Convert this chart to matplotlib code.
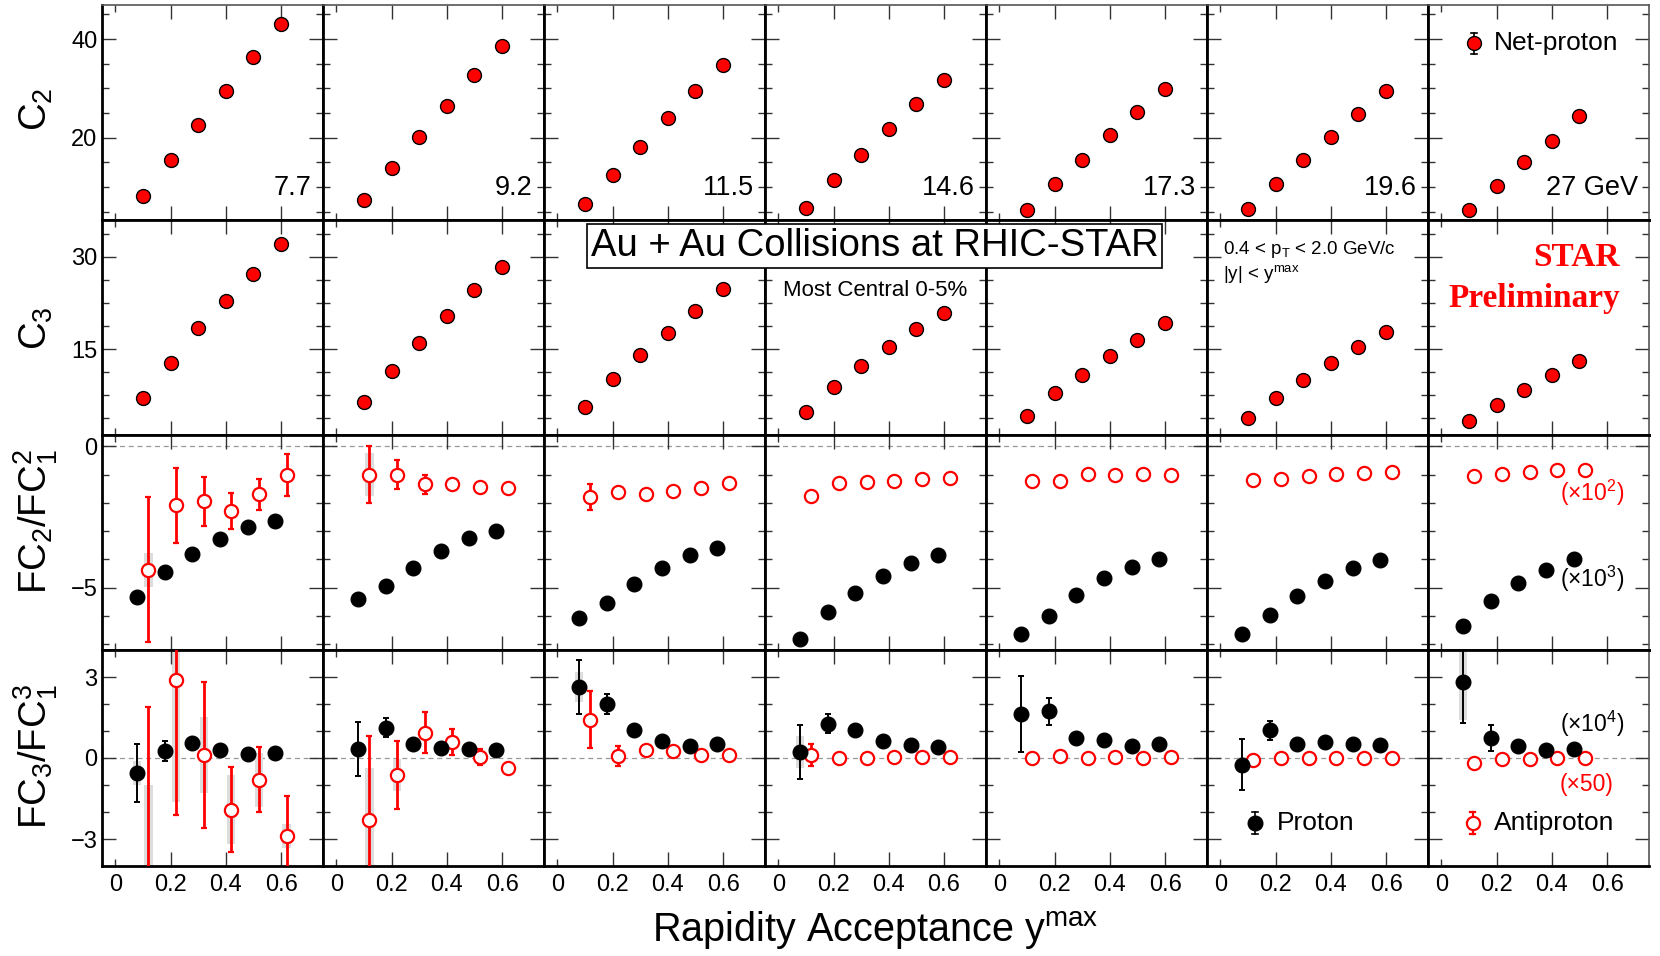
import matplotlib
matplotlib.use('Agg')
import matplotlib.pyplot as plt
import numpy as np

plt.rcParams['font.family'] = ['Liberation Sans', 'DejaVu Sans']
plt.rcParams['mathtext.fontset'] = 'custom'
plt.rcParams['mathtext.rm'] = 'Liberation Sans'
plt.rcParams['mathtext.it'] = 'Liberation Sans:italic'
plt.rcParams['mathtext.bf'] = 'Liberation Sans:bold'

# ---------------- data ----------------
energy_labels = ['7.7', '9.2', '11.5', '14.6', '17.3', '19.6', '27 GeV']
ymax_points = [0.1, 0.2, 0.3, 0.4, 0.5, 0.6]
n_points = [6, 6, 6, 6, 6, 6, 5]
proton_shift = -0.021
antiproton_shift = 0.02

c2_netp = [
    [8.1, 15.4, 22.5, 29.5, 36.4, 43.0],
    [7.4, 13.9, 20.2, 26.4, 32.8, 38.6],
    [6.5, 12.5, 18.2, 23.9, 29.5, 34.8],
    [5.7, 11.4, 16.5, 21.7, 26.9, 31.6],
    [5.4, 10.6, 15.5, 20.5, 25.3, 29.9],
    [5.5, 10.7, 15.4, 20.1, 24.8, 29.4],
    [5.4, 10.2, 15.0, 19.4, 24.3],
]
c3_netp = [
    [7.0, 12.8, 18.4, 22.8, 27.2, 32.1],
    [6.3, 11.5, 15.9, 20.3, 24.6, 28.3],
    [5.5, 10.1, 14.1, 17.6, 21.2, 24.7],
    [4.7, 8.8, 12.2, 15.3, 18.2, 20.9],
    [4.1, 7.8, 10.8, 13.9, 16.5, 19.3],
    [3.8, 7.1, 10.0, 12.8, 15.4, 17.8],
    [3.2, 5.9, 8.4, 10.7, 13.1],
]

fc2_p = [
    [-5.32, -4.46, -3.81, -3.26, -2.84, -2.65],
    [-5.41, -4.93, -4.29, -3.70, -3.24, -2.99],
    [-6.06, -5.53, -4.85, -4.29, -3.84, -3.58],
    [-6.80, -5.87, -5.18, -4.60, -4.14, -3.85],
    [-6.62, -6.00, -5.24, -4.67, -4.26, -3.97],
    [-6.63, -5.97, -5.30, -4.76, -4.30, -4.01],
    [-6.36, -5.46, -4.82, -4.37, -4.00],
]
fc2_pbar = [
    [-4.36, -2.09, -1.95, -2.29, -1.69, -1.02],
    [-1.00, -1.00, -1.34, -1.34, -1.44, -1.47],
    [-1.80, -1.61, -1.68, -1.57, -1.47, -1.31],
    [-1.74, -1.29, -1.26, -1.23, -1.17, -1.11],
    [-1.22, -1.22, -0.97, -1.02, -0.99, -1.03],
    [-1.19, -1.15, -1.05, -0.97, -0.95, -0.92],
    [-1.04, -0.97, -0.91, -0.85, -0.83],
]
fc2_pbar_err = [
    [2.57, 1.33, 0.87, 0.64, 0.55, 0.74],
    [1.00, 0.51, 0.33, 0.17, 0.08, 0.08],
    [0.46, 0.06, 0.05, 0.05, 0.05, 0.05],
    [0.05, 0.04, 0.04, 0.04, 0.04, 0.04],
    [0.04, 0.04, 0.04, 0.04, 0.04, 0.04],
    [0.04, 0.04, 0.04, 0.04, 0.04, 0.04],
    [0.04, 0.04, 0.04, 0.04, 0.04],
]
fc2_pbar_sys = [
    [0.60, 0.0, 0.0, 0.0, 0.0, 0.0],
    [0.75, 0.0, 0.0, 0.0, 0.0, 0.0],
    [0.0, 0.0, 0.0, 0.0, 0.0, 0.0],
    [0.0, 0.0, 0.0, 0.0, 0.0, 0.0],
    [0.0, 0.0, 0.0, 0.0, 0.0, 0.0],
    [0.0, 0.0, 0.0, 0.0, 0.0, 0.0],
    [0.0, 0.0, 0.0, 0.0, 0.0],
]

fc3_p = [
    [-0.56, 0.26, 0.56, 0.28, 0.16, 0.20],
    [0.35, 1.12, 0.53, 0.38, 0.35, 0.31],
    [2.63, 2.01, 1.02, 0.62, 0.44, 0.51],
    [0.22, 1.27, 1.02, 0.63, 0.47, 0.41],
    [1.62, 1.73, 0.74, 0.65, 0.44, 0.51],
    [-0.25, 1.02, 0.51, 0.59, 0.51, 0.49],
    [2.81, 0.75, 0.44, 0.31, 0.35],
]
fc3_p_err = [
    [1.08, 0.38, 0.10, 0.08, 0.06, 0.06],
    [1.00, 0.36, 0.10, 0.08, 0.06, 0.06],
    [1.00, 0.37, 0.10, 0.08, 0.06, 0.06],
    [1.00, 0.36, 0.10, 0.08, 0.06, 0.06],
    [1.40, 0.50, 0.10, 0.08, 0.06, 0.06],
    [0.95, 0.34, 0.10, 0.08, 0.06, 0.06],
    [1.50, 0.48, 0.10, 0.08, 0.06],
]
fc3_p_sys = [
    [0.45, 0.0, 0.0, 0.0, 0.0, 0.0],
    [0.0, 0.0, 0.0, 0.0, 0.0, 0.0],
    [0.55, 0.0, 0.0, 0.0, 0.0, 0.0],
    [0.60, 0.0, 0.0, 0.0, 0.0, 0.0],
    [0.0, 0.0, 0.0, 0.0, 0.0, 0.0],
    [0.30, 0.0, 0.0, 0.0, 0.0, 0.0],
    [1.40, 0.0, 0.0, 0.0, 0.0],
]
fc3_pbar = [
    [-5.6, 2.88, 0.10, -1.91, -0.80, -2.89],
    [-2.28, -0.64, 0.94, 0.59, 0.04, -0.37],
    [1.42, 0.06, 0.28, 0.25, 0.10, 0.10],
    [0.12, 0.00, 0.01, 0.04, 0.04, 0.04],
    [0.00, 0.07, 0.00, 0.04, 0.00, 0.02],
    [-0.09, 0.00, 0.00, 0.01, 0.01, 0.01],
    [-0.19, -0.05, -0.02, 0.01, 0.01],
]
fc3_pbar_err = [
    [7.5, 5.0, 2.7, 1.57, 1.2, 1.48],
    [3.1, 1.26, 0.77, 0.47, 0.30, 0.20],
    [1.05, 0.37, 0.06, 0.05, 0.05, 0.05],
    [0.40, 0.05, 0.04, 0.04, 0.04, 0.04],
    [0.20, 0.04, 0.04, 0.04, 0.04, 0.04],
    [0.05, 0.04, 0.04, 0.04, 0.04, 0.04],
    [0.05, 0.04, 0.04, 0.04, 0.04],
]
fc3_pbar_sys = [
    [4.6, 4.5, 1.4, 1.28, 1.0, 0.45],
    [1.9, 0.6, 0.0, 0.0, 0.0, 0.0],
    [0.0, 0.0, 0.0, 0.0, 0.0, 0.0],
    [0.0, 0.0, 0.0, 0.0, 0.0, 0.0],
    [0.0, 0.0, 0.0, 0.0, 0.0, 0.0],
    [0.0, 0.0, 0.0, 0.0, 0.0, 0.0],
    [0.0, 0.0, 0.0, 0.0, 0.0],
]

row_ylims = [(3.3, 46.8), (1.0, 36.0), (-7.2, 0.4), (-4.0, 4.0)]
row_major = [[20, 40], [15, 30], [-5, 0], [-3, 0, 3]]
row_minor = [np.arange(5, 46, 5), np.arange(3.75, 36, 3.75), np.arange(-7, 1, 1), np.arange(-4, 4.5, 1)]
row_labels = [r'C$_2$', r'C$_3$', r'FC$_2$/FC$_1^2$', r'FC$_3$/FC$_1^3$']
x_major = [0, 0.2, 0.4, 0.6]
x_labels = ['0', '0.2', '0.4', '0.6']

# ---------------- layout ----------------
W, H = 1660, 956
fig = plt.figure(figsize=(W / 100, H / 100), dpi=100)
left_px, pw = 101.5, 221.0
row_edges = [5.5, 220.0, 435.0, 650.0, 866.0]

axes = [[None] * 7 for _ in range(4)]
for r in range(4):
    for c in range(7):
        y0, y1 = row_edges[r], row_edges[r + 1]
        ax = fig.add_axes([(left_px + c * pw) / W, 1 - y1 / H, pw / W, (y1 - y0) / H])
        axes[r][c] = ax
        ax.set_xlim(-0.05, 0.75)
        ax.set_ylim(*row_ylims[r])
        ax.set_xticks(x_major)
        ax.set_xticks([0.1, 0.3, 0.5, 0.7], minor=True)
        ax.set_yticks(row_major[r])
        ax.set_yticks(row_minor[r], minor=True)
        ax.tick_params(which='both', direction='in', top=True, right=True, color='#333333')
        ax.tick_params(which='major', length=10, width=1.0)
        ax.tick_params(which='minor', length=0, width=1.0)
        ax.tick_params(axis='y', which='minor', length=5)
        ax.tick_params(axis='x', labelsize=17, pad=6)
        ax.tick_params(axis='y', labelsize=17, pad=3)
        if r != 3:
            ax.set_xticklabels([])
        else:
            ax.set_xticklabels(x_labels)
        if c != 0:
            ax.set_yticklabels([])
        for s in ax.spines.values():
            s.set_linewidth(2.0)
            s.set_color('black')
        if r == 0:
            ax.spines['top'].set_linewidth(1.2)
            ax.spines['top'].set_color('#555555')
        if c == 6:
            ax.spines['right'].set_linewidth(1.2)
            ax.spines['right'].set_color('#555555')
        t0 = ax.xaxis.get_major_ticks()[0]
        t0.tick1line.set_markersize(5)
        t0.tick2line.set_markersize(5)
        if r >= 2:
            ax.axhline(0, color='#999999', lw=0.9, ls=(0, (4, 3)), zorder=0.5)

net_kw = dict(fmt='o', ms=10, mfc='red', mec='black', mew=1.0, ecolor='black', elinewidth=1, capsize=0, zorder=3)
p_kw = dict(fmt='o', ms=10.5, mfc='black', mec='black', ecolor='black', elinewidth=1.4, capsize=2.5, capthick=1.4, zorder=4)
pb_kw = dict(fmt='o', ms=9.5, mfc='white', mec='red', mew=1.6, ecolor='red', elinewidth=2.0, capsize=2.5, capthick=2.0, zorder=3)

for c in range(7):
    n = n_points[c]
    x = np.array(ymax_points[:n])
    xp = x + proton_shift
    xb = x + antiproton_shift
    axes[0][c].errorbar(x, c2_netp[c], **net_kw)
    axes[1][c].errorbar(x, c3_netp[c], **net_kw)

    ax = axes[2][c]
    sys = np.array(fc2_pbar_sys[c])
    yb = np.array(fc2_pbar[c])
    ax.bar(xb, 2 * sys, bottom=yb - sys, width=0.03, color='#dddddd', lw=0, zorder=1)
    ax.errorbar(xb, yb, yerr=fc2_pbar_err[c], **pb_kw)
    ax.errorbar(xp, fc2_p[c], yerr=[0.03] * n, **p_kw)

    ax = axes[3][c]
    sysb = np.array(fc3_pbar_sys[c])
    yb = np.array(fc3_pbar[c])
    sysp = np.array(fc3_p_sys[c])
    yp = np.array(fc3_p[c])
    ax.bar(xb, 2 * sysb, bottom=yb - sysb, width=0.03, color='#dddddd', lw=0, zorder=1)
    ax.bar(xp, 2 * sysp, bottom=yp - sysp, width=0.03, color='#dddddd', lw=0, zorder=1)
    ax.errorbar(xb, yb, yerr=fc3_pbar_err[c], **pb_kw)
    ax.errorbar(xp, yp, yerr=fc3_p_err[c], **p_kw)

    axes[0][c].text(0.952, 0.147, energy_labels[c], transform=axes[0][c].transAxes,
                    ha='right', va='center', fontsize=19.5)

# ---------------- annotations ----------------
def fx(px):
    return px / W

def fy(py):
    return 1 - py / H

ylab_y = [109, 328, 522, 757]
for lab, yy in zip(row_labels, ylab_y):
    fig.text(fx(36), fy(yy), lab, rotation=90, ha='center', va='center', fontsize=27.5)

fig.text(fx(875), fy(931), r'Rapidity Acceptance y$^{\rm max}$', ha='center', va='center', fontsize=28.5)

fig.text(fx(874.5), fy(246), 'Au + Au Collisions at RHIC-STAR', ha='center', va='center', fontsize=27.5,
         bbox=dict(boxstyle='square,pad=0.1', fc='white', ec='black', lw=1.2))
fig.text(fx(875), fy(290), 'Most Central 0-5%', ha='center', va='center', fontsize=16)
fig.text(fx(1223), fy(250), r'0.4 < p$_{\rm T}$ < 2.0 GeV/c', ha='left', va='center', fontsize=13.5)
fig.text(fx(1223), fy(274), r'|y| < y$^{\rm max}$', ha='left', va='center', fontsize=13.5)
fig.text(fx(1620), fy(257), 'STAR', ha='right', va='center', fontsize=24, color='red',
         family='Liberation Serif', weight='bold')
fig.text(fx(1620), fy(298), 'Preliminary', ha='right', va='center', fontsize=24, color='red',
         family='Liberation Serif', weight='bold')
fig.text(fx(1624), fy(493), r'(×10$^2$)', ha='right', va='center', fontsize=16.5, color='red')
fig.text(fx(1624), fy(579), r'(×10$^3$)', ha='right', va='center', fontsize=16.5, color='black')
fig.text(fx(1624), fy(724), r'(×10$^4$)', ha='right', va='center', fontsize=16.5, color='black')
fig.text(fx(1613), fy(785), '(×50)', ha='right', va='center', fontsize=16.5, color='red')

# legends (drawn in axes coordinates)
def legend_marker(ax, xa, ya, kw_marker, ecolor, lw):
    ax.plot([xa, xa], [ya - 0.05, ya + 0.05], color=ecolor, lw=lw, transform=ax.transAxes, zorder=5, clip_on=False)
    ax.plot([xa - 0.012, xa + 0.012], [ya + 0.05, ya + 0.05], color=ecolor, lw=lw, transform=ax.transAxes, zorder=5, clip_on=False)
    ax.plot([xa - 0.012, xa + 0.012], [ya - 0.05, ya - 0.05], color=ecolor, lw=lw, transform=ax.transAxes, zorder=5, clip_on=False)
    ax.plot([xa], [ya], transform=ax.transAxes, zorder=6, clip_on=False, **kw_marker)

ax = axes[0][6]
legend_marker(ax, 0.21, 0.823, dict(marker='o', ms=10, mfc='red', mec='black', mew=1.0, ls='none'), 'black', 1.2)
ax.text(0.30, 0.823, 'Net-proton', transform=ax.transAxes, ha='left', va='center', fontsize=19)

ax = axes[3][5]
legend_marker(ax, 0.22, 0.20, dict(marker='o', ms=10.5, mfc='black', mec='black', ls='none'), 'black', 1.2)
ax.text(0.32, 0.20, 'Proton', transform=ax.transAxes, ha='left', va='center', fontsize=19)

ax = axes[3][6]
legend_marker(ax, 0.205, 0.20, dict(marker='o', ms=9.5, mfc='white', mec='red', mew=1.6, ls='none'), 'red', 1.6)
ax.text(0.30, 0.20, 'Antiproton', transform=ax.transAxes, ha='left', va='center', fontsize=19)

fig.savefig('out.png', dpi=100)
